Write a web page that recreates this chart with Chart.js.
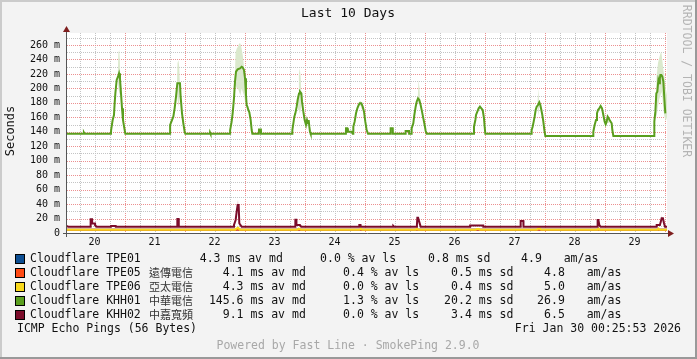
<!DOCTYPE html>
<html><head><meta charset="utf-8">
<script src="https://cdn.jsdelivr.net/npm/chart.js@4/dist/chart.umd.min.js"></script>
<style>html,body{margin:0;padding:0;background:#f3f3f3;overflow:hidden}#wrap{position:relative;width:697px;height:359px}</style>
</head><body><div id="wrap"><canvas id="c" width="697" height="359"></canvas></div>
<script>
// ---- axis / tick data ----
const xMin = 20.04, xMax = 30.04;              // days of month (Jan), last 10 days
const xTickPositions = [20.5,21.5,22.5,23.5,24.5,25.5,26.5,27.5,28.5,29.5];
const xTickLabels = ['20','21','22','23','24','25','26','27','28','29'];
const yTickValues = [0,20,40,60,80,100,120,140,160,180,200,220,240,260];
const yMax = 276.6;

// ---- legend data ----
const seriesNames  = ['Cloudflare TPE01','Cloudflare TPE05','Cloudflare TPE06','Cloudflare KHH01','Cloudflare KHH02'];
const seriesLocal  = ['','遠傳電信','亞太電信','中華電信','中嘉寬頻'];
const seriesColors = ['#0d4e92','#ff4b14','#f8d81c','#5a9e1e','#7b0c2a'];
const statMedian = ['4.3','4.1','4.3','145.6','9.1'];
const statLoss   = ['0.0','0.4','0.0','1.3','0.0'];
const statSd     = ['0.8','0.5','0.4','20.2','3.4'];
const statAmAs   = ['4.9','4.8','5.0','26.9','6.5'];

// ---- series (day, ms) ----
const tpe01 = [[20.04,4.5],[22.86,4.5],[22.88,5.2],[22.9,4.5],[27.88,4.5],[27.9,5.2],[27.92,4.5],[30.04,4.5]];
const tpe05 = [[20.04,4.5],[30.04,4.5]];
const tpe06 = [[20.04,4.5],[22.842,4.5],[22.862,6.2],[22.892,7.2],[22.918,4.5],
 [23.882,4.5],[23.902,6],[23.94,4.5],[24.912,4.5],[24.935,5.6],[24.96,4.5],
 [25.852,4.5],[25.872,6],[25.892,4.5],[26.852,4.5],[26.872,5.6],[26.902,5.4],[26.922,4.5],
 [27.872,4.5],[27.892,6.2],[27.922,5.8],[27.942,4.5],[28.882,4.5],[28.897,6],[28.912,4.5],
 [29.882,4.5],[29.897,6],[29.912,4.5],[30.04,4.5]];
const khh01 = [[20.04,137.4],[20.312,137.4],[20.322,139],[20.332,137.4],
 [20.773,137.4],[20.775,142.4],[20.801,156.3],[20.823,163.2],[20.834,179.3],[20.846,193.1],[20.868,211.6],[20.890,216.2],[20.907,220.8],[20.923,213.9],[20.940,193.1],[20.957,172.4],[20.973,156.3],[20.996,144.7],[21.012,137.4],
 [21.757,137.4],[21.759,149.4],[21.812,160.9],[21.834,172.4],[21.857,188.5],[21.879,207],[21.923,207],[21.934,188.5],[21.957,165.5],[21.979,151.7],[22.001,140.1],[22.012,137.4],
 [22.422,137.4],[22.424,139],[22.432,137.4],
 [22.757,137.4],[22.759,142.4],[22.784,154],[22.801,165.5],[22.823,186.2],[22.840,209.3],[22.857,223.1],[22.884,226.3],[22.923,227.7],[22.951,230],[22.968,229],[22.990,225.4],[23.007,213.9],[23.023,190.8],[23.034,177],[23.046,174.7],[23.062,170.1],[23.079,166.9],[23.101,156.3],[23.118,142.4],[23.129,137.4],
 [23.238,137.4],[23.240,143],[23.272,143],[23.274,137.4],
 [23.794,137.4],[23.796,142.4],[23.829,160.9],[23.846,165.5],[23.868,174.7],[23.884,183.9],[23.907,193.1],[23.923,195.5],[23.946,193.1],[23.957,181.6],[23.979,167.8],[24.001,156.3],[24.023,149.4],[24.040,156.3],[24.057,151.7],[24.068,156.3],[24.079,147],[24.090,140.1],[24.101,137.4],
 [24.688,137.4],[24.690,144.7],[24.712,144.7],[24.722,140.1],[24.782,140.1],[24.801,137.4],
 [24.810,137.4],[24.812,147],[24.834,154],[24.857,165.5],[24.879,172.4],[24.901,177],[24.918,179.3],[24.946,179.3],[24.968,174.7],[24.990,167.8],[25.012,154],[25.034,142.4],[25.057,137.4],
 [25.432,137.4],[25.434,144.7],[25.468,144.7],[25.470,137.4],
 [25.682,137.4],[25.684,141],[25.740,141],[25.742,137.4],
 [25.782,137.4],[25.784,144.7],[25.812,151.7],[25.829,163.2],[25.851,174.7],[25.868,181.6],[25.890,186.2],[25.912,183.9],[25.934,177],[25.957,167.8],[25.979,158.6],[26.001,149.4],[26.018,141.1],[26.034,137.4],
 [26.821,137.4],[26.823,147],[26.846,156.3],[26.857,163.2],[26.879,167.8],[26.901,172.4],[26.923,174.7],[26.946,172.4],[26.968,170.1],[26.990,158.6],[27.001,147],[27.012,137.4],
 [27.782,137.4],[27.784,142.4],[27.801,147],[27.818,154],[27.834,160.9],[27.851,170.1],[27.868,174.7],[27.890,177],[27.912,180.7],[27.929,177],[27.946,170.1],[27.962,163.2],[27.979,154],[27.996,142.4],[28.012,134.1],
 [28.810,134.1],[28.812,140.1],[28.834,149.4],[28.857,156.3],[28.873,165.5],[28.890,170.1],[28.912,172.4],[28.934,175.6],[28.957,172.4],[28.979,163.2],[29.001,154],[29.018,150.3],[29.034,154],[29.051,160.9],[29.068,158.6],[29.084,156.3],[29.101,154],[29.118,151.7],[29.129,142.4],[29.146,134.1],
 [29.827,134.1],[29.829,154],[29.846,167.8],[29.862,193.1],[29.879,195.5],[29.896,211.6],[29.912,207],[29.921,213.9],[29.929,218.5],[29.946,218.5],[29.962,216.2],[29.979,209.3],[29.996,186.2],[30.012,165.5],[30.023,165.5]];
const khh02 = [[20.04,10],[20.052,10],[20.057,8.8],
 [20.432,8.8],[20.434,18.9],[20.457,18.9],[20.459,13.3],[20.507,13.3],[20.509,10.5],[20.534,8.8],
 [20.772,8.8],[20.774,9.8],[20.852,9.8],[20.854,8.8],
 [21.877,8.8],[21.879,19.4],[21.901,19.4],[21.903,8.8],
 [22.822,8.8],[22.823,11.1],[22.851,18],[22.868,29.5],[22.884,38.7],[22.901,38.7],[22.912,13.4],[22.929,11.1],[22.951,8.8],
 [23.844,8.8],[23.846,18.4],[23.862,18.4],[23.864,11.1],[23.922,11.1],[23.942,8.8],
 [24.910,8.8],[24.912,11.1],[24.932,11.1],[24.934,8.8],
 [25.477,8.8],[25.479,9.8],[25.492,8.8],
 [25.862,8.8],[25.872,11.1],[25.879,21.2],[25.892,21.2],[25.912,15],[25.934,8.8],
 [26.757,8.8],[26.759,10.4],[26.977,10.4],[26.979,8.8],
 [27.599,8.8],[27.601,16.6],[27.646,16.6],[27.648,8.8],
 [28.882,8.8],[28.884,18],[28.897,18],[28.912,11],[28.932,8.8],
 [29.862,8.8],[29.868,11.1],[29.922,11.1],[29.951,20.3],[29.972,20.3],[29.990,13.4],[30.007,8.8],[30.04,8.8]];

// smoke (ping spread) of KHH01
const smokeTimes = [20.04,20.885,20.897,20.91,20.92,20.93,20.94, 21.87,21.882,21.897,21.91,21.92,21.932,
 22.83,22.85,22.87,22.89,22.91,22.93,22.95,22.97,22.99,23.01,23.025, 23.89,23.905,23.92,23.935,23.95,
 24.9,24.92,24.94,24.955, 25.885,25.9,25.915,25.93, 26.9,26.915,26.93, 27.88,27.895,27.905,27.92,
 29.02,29.04,29.07,29.09, 29.85,29.865,29.89,29.91,29.93,29.945,29.96,29.98,30.0,30.02,30.04];
const smokeLow  = [137,215,200,190,190,200,193, 200,185,175,180,195,190,
 195,205,200,200,195,190,200,195,190,180,188, 188,170,165,170,180,
 177,176,176,172, 186,178,180,178, 172,171,172, 176,162,170,178,
 152,152,152,154, 166,160,175,185,190,195,190,170,160,155,160];
const smokeHigh = [137,215,250,253,240,205,193, 200,235,239,230,210,190,
 195,250,255,258,262,262,255,245,230,205,188, 188,220,228,215,180,
 177,183,182,172, 186,212,200,178, 172,178,172, 176,200,185,178,
 152,163,160,154, 166,215,235,242,248,251,240,225,215,200,190];

// smoke (ping spread) of KHH02
const smoke2Times = [20.04,22.86,22.875,22.89,22.905,22.92, 29.93,29.945,29.96];
const smoke2Low   = [8.8,20,25,30,20,12, 15,14,15];
const smoke2High  = [8.8,20,42,46,38,12, 15,26,15];

const pts = a => a.map(p => ({x:p[0], y:p[1]}));
const zipPts = (xs, ys) => xs.map((x,i) => ({x, y: ys[i]}));

const MONO = "'DejaVu Sans Mono', monospace";
const CJK = "'Noto Sans CJK TC', 'Noto Sans CJK SC', sans-serif";

const decor = {
  id: 'decor',
  beforeDraw(chart) {
    const ctx = chart.ctx, a = chart.chartArea, xs = chart.scales.x, ys = chart.scales.y;
    ctx.save();
    ctx.fillStyle = '#f3f3f3'; ctx.fillRect(0,0,697,359);
    ctx.fillStyle = '#cbcbcb'; ctx.fillRect(0,0,697,2); ctx.fillRect(0,0,2,359);
    ctx.fillStyle = '#999999'; ctx.fillRect(0,357,697,2); ctx.fillRect(695,0,2,359);
    ctx.fillStyle = '#ffffff'; ctx.fillRect(a.left, a.top, a.right-a.left, a.bottom-a.top);
    ctx.lineWidth = 1; ctx.setLineDash([1,1]);
    // vertical grid: every 6h, red at midnight
    for (let k = 80; k <= 121; k++) {
      const d = k/4; if (d <= xMin || d >= xMax) continue;
      const px = Math.round(xs.getPixelForValue(d)) + 0.5;
      ctx.strokeStyle = (k % 4 === 0) ? '#ec9090' : '#c4c4c4';
      ctx.beginPath(); ctx.moveTo(px, a.top); ctx.lineTo(px, a.bottom); ctx.stroke();
    }
    for (let v = 10; v <= 270; v += 10) {
      const py = Math.round(ys.getPixelForValue(v)) + 0.5;
      ctx.strokeStyle = (v % 20 === 0) ? '#ec9090' : '#c4c4c4';
      ctx.beginPath(); ctx.moveTo(a.left, py); ctx.lineTo(a.right, py); ctx.stroke();
    }
    ctx.restore();
  },
  afterDatasetsDraw(chart) {
    const ctx = chart.ctx, a = chart.chartArea;
    ctx.save();
    ctx.strokeStyle = '#555555'; ctx.lineWidth = 1;
    ctx.beginPath(); ctx.moveTo(a.left - 0.5, a.bottom + 4); ctx.lineTo(a.left - 0.5, a.top - 5); ctx.stroke();
    ctx.beginPath(); ctx.moveTo(a.left - 4, a.bottom + 0.5); ctx.lineTo(a.right + 5, a.bottom + 0.5); ctx.stroke();
    ctx.fillStyle = '#7f1f1f';
    ctx.beginPath(); ctx.moveTo(a.left - 0.5, a.top - 7); ctx.lineTo(a.left - 4, a.top - 1); ctx.lineTo(a.left + 3, a.top - 1); ctx.closePath(); ctx.fill();
    ctx.beginPath(); ctx.moveTo(a.right + 7, a.bottom + 0.5); ctx.lineTo(a.right + 1, a.bottom - 3); ctx.lineTo(a.right + 1, a.bottom + 4); ctx.closePath(); ctx.fill();
    ctx.restore();
  },
  afterDraw(chart) {
    const ctx = chart.ctx;
    ctx.save();
    ctx.fillStyle = '#111';
    ctx.textBaseline = 'middle';
    ctx.font = '13px ' + MONO; ctx.textAlign = 'center';
    ctx.fillText('Last 10 Days', 348, 14);
    // y title
    ctx.save(); ctx.translate(11, 131); ctx.rotate(-Math.PI/2);
    ctx.font = '12px ' + MONO; ctx.fillText('Seconds', 0, 0); ctx.restore();
    // right watermark
    ctx.save(); ctx.translate(686, 81); ctx.rotate(Math.PI/2);
    ctx.fillStyle = '#b4b4b4'; ctx.font = '11.5px ' + MONO; ctx.fillText('RRDTOOL / TOBI OETIKER', 0, 0); ctx.restore();
    // legend
    const rowY = [259, 273, 287, 301, 315];
    for (let i = 0; i < seriesNames.length; i++) {
      const y = rowY[i], dx = (i === 0) ? -23 : 0;
      ctx.fillStyle = seriesColors[i]; ctx.fillRect(15, y-5, 10, 10);
      ctx.strokeStyle = '#000'; ctx.lineWidth = 1; ctx.strokeRect(15.5, y-4.5, 9, 9);
      ctx.fillStyle = '#111'; ctx.font = '11.5px ' + MONO; ctx.textAlign = 'left';
      ctx.fillText(seriesNames[i], 30, y);
      if (seriesLocal[i]) { ctx.font = '11px ' + CJK; ctx.fillStyle = '#333'; ctx.fillText(seriesLocal[i], 149, y); }
      ctx.fillStyle = '#111'; ctx.font = '11.5px ' + MONO;
      ctx.textAlign = 'right';
      ctx.fillText(statMedian[i], 243.5+dx, y);
      ctx.fillText(statLoss[i], 363.8+dx, y);
      ctx.fillText(statSd[i], 471.8+dx, y);
      ctx.fillText(statAmAs[i], 564.8+dx, y);
      ctx.textAlign = 'left';
      ctx.fillText(' ms av md', 243.5+dx, y);
      ctx.fillText(' % av ls', 363.8+dx, y);
      ctx.fillText(' ms sd', 471.8+dx, y);
      ctx.fillText('am/as', 586.7+dx, y);
    }
    ctx.textAlign = 'left'; ctx.fillText('ICMP Echo Pings (56 Bytes)', 17, 329);
    ctx.textAlign = 'right'; ctx.fillText('Fri Jan 30 00:25:53 2026', 681, 329);
    ctx.textAlign = 'center'; ctx.fillStyle = '#a8a8a8'; ctx.fillText('Powered by Fast Line · SmokePing 2.9.0', 348, 346);
    ctx.restore();
  }
};

const lineDs = (label, data, color, w) => ({label, data: pts(data), borderColor: color, borderWidth: w, pointRadius: 0, fill: false, tension: 0});
const bandDs = (label, xs, ys, fill, bg) => ({label, data: zipPts(xs, ys), borderColor:'rgba(0,0,0,0)', borderWidth:0, pointRadius:0, fill, backgroundColor: bg, tension:0});

new Chart(document.getElementById('c'), {
  type: 'line',
  data: { datasets: [
    lineDs(seriesNames[4], khh02, seriesColors[4], 2),
    lineDs(seriesNames[3], khh01, seriesColors[3], 2),
    lineDs(seriesNames[2], tpe06, seriesColors[2], 2),
    lineDs(seriesNames[1], tpe05, seriesColors[1], 2),
    lineDs(seriesNames[0], tpe01, seriesColors[0], 2),
    bandDs('smoke hi', smokeTimes, smokeHigh, '+1', '#dbe9cd'),
    bandDs('smoke lo', smokeTimes, smokeLow, false, 'rgba(0,0,0,0)'),
    bandDs('smoke2 hi', smoke2Times, smoke2High, '+1', '#f1d9de'),
    bandDs('smoke2 lo', smoke2Times, smoke2Low, false, 'rgba(0,0,0,0)')
  ]},
  options: {
    responsive: false, animation: false, devicePixelRatio: 1,
    layout: { padding: { top: 33, left: 0, right: 30, bottom: 0 } },
    plugins: { legend: {display:false}, tooltip: {enabled:false}, title: {display:false} },
    scales: {
      x: { type: 'linear', min: xMin, max: xMax, offset: false,
           grid: {display:false, drawTicks:false}, border: {display:false},
           afterBuildTicks: s => { s.ticks = xTickPositions.map(v => ({value:v})); },
           afterFit: s => { s.height = 126; },
           ticks: { autoSkip:false, maxRotation:0, padding: 3, color:'#111', font:{family:MONO, size:10},
                    callback: (v, i) => xTickLabels[i] } },
      y: { type: 'linear', min: 0, max: yMax,
           grid: {display:false, drawTicks:false}, border: {display:false},
           afterBuildTicks: s => { s.ticks = yTickValues.map(v => ({value:v})); },
           afterFit: s => { s.width = 67; },
           ticks: { padding: 7, color:'#111', font:{family:MONO, size:10},
                    callback: v => v === 0 ? '0' : v + ' m' } }
    }
  },
  plugins: [decor]
});
</script></body></html>
